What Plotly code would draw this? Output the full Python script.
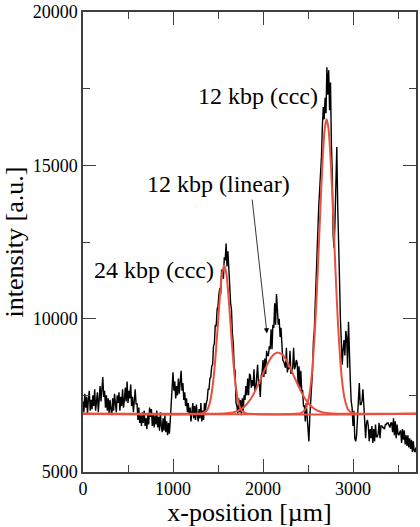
import plotly.graph_objects as go

# ---------------- data ----------------
x_start = 0
x_step = 10
intensity = [
    7300, 6950, 7550, 7100, 7450, 6900, 7400, 7650, 7000, 7350, 7050, 7500, 7150, 7700, 7000, 7400, 7600, 6950, 7350, 7800,
    7300, 7900, 8100, 7450, 7650, 7100, 7500, 7000, 7400, 6900, 7350, 7050, 6850, 7400, 7000, 7550, 7100, 6950, 7500, 7250,
    7600, 7000, 7450, 7150, 7700, 7100, 7350, 7750, 7300, 7950, 7250, 7650, 7400, 7850, 7150, 7450, 6950, 7400, 7700, 7200,
    7250, 6700, 7100, 6600, 6850, 6500, 6950, 6600, 7000, 6500, 6750, 6400, 6900, 6550, 7100, 6800, 7050, 6500, 6900, 6450,
    6850, 6550, 7000, 6450, 6800, 6350, 6950, 6500, 6300, 6750, 6350, 6850, 6300, 6650, 6200, 6600, 6250, 6700, 7300, 7850,
    8250, 7650, 7950, 7400, 7800, 7500, 8050, 7550, 8100, 8300, 7650, 7900, 7350, 7600, 7150, 7400, 6950, 7250, 6850, 7100,
    6650, 7050, 7250, 6750, 7150, 6700, 7200, 6850, 6650, 7050, 6750, 7250, 6650, 7000, 6700, 7250, 7000, 7250, 7350, 7700,
    7700, 8050, 8100, 8450, 8500, 9100, 9200, 9800, 9750, 10300, 10400, 10800, 11000, 10800, 11600, 11500, 11300, 12000, 11900, 12450,
    11700, 12200, 11300, 11100, 10500, 10300, 9500, 9200, 8400, 8300, 7250, 7150, 6900, 7400, 6950, 7350, 6850, 7400, 7000, 7500,
    7350, 7800, 7500, 8050, 7500, 8200, 8150, 7750, 8000, 7800, 8350, 7650, 7700, 8050, 8500, 7900, 7850, 7450, 8150, 8250,
    8650, 8100, 8700, 8200, 8950, 8800, 8800, 9100, 9000, 9650, 9000, 9800, 9700, 10500, 9800, 10800, 10000, 9800, 10000, 9400,
    9700, 8850, 8650, 8600, 8450, 8400, 9050, 8250, 8400, 8350, 8950, 8200, 8300, 8400, 9050, 8350, 8450, 8650, 8550, 7850,
    8450, 7750, 8300, 7650, 7650, 7150, 7150, 6650, 7250, 6750, 6400, 6000, 6800, 7200, 7750, 8300, 9250, 9600, 10450, 11100,
    12200, 12900, 13700, 14200, 15000, 15300, 16300, 16900, 16500, 17200, 16700, 18200, 17300, 18100, 16800, 17700, 15700, 14700, 12700, 12300,
    13200, 15000, 15600, 13700, 11900, 11300, 10000, 9100, 8500, 9000, 9300, 8800, 9600, 9400, 8400, 9900, 8300, 8000, 7300, 7100,
    6500, 7000, 6100, 6000, 6200, 6900, 7300, 7900, 7200, 7200, 7300, 7700, 7200, 6800, 6100, 6600, 6700, 6500, 6000, 6400,
    6100, 6500, 5950, 6400, 6000, 6550, 6150, 6150, 6250, 6600, 6100, 6500, 6500, 6450, 6450, 6400, 6550, 6550, 6600, 6600,
    6500, 6450, 6600, 6600, 6300, 6750, 6200, 6650, 6100, 6550, 6250, 6200, 6300, 6350, 5950, 6400, 6050, 6350, 5900, 6200,
    5850, 6200, 5800, 6100, 5750, 6050, 5650, 6000, 5700, 5650, 5800,
]
x_pos = [x_start + i * x_step for i in range(len(intensity))]

# Gaussian fit curves
fit1_x = [0, 1319, 1369, 1394, 1419, 1444, 1469, 1494, 1519, 1544, 1569,
          1594, 1619, 1644, 1669, 1694, 1719, 1744, 1769, 1819, 3700]
fit1_y = [6900, 6910, 6980, 7110, 7390, 7880, 8640, 9625, 10650, 11440, 11740,
          11440, 10650, 9625, 8640, 7880, 7390, 7110, 6980, 6910, 6900]

fit2_x = [0, 1466, 1566, 1666, 1716, 1766, 1816, 1866, 1916, 1966, 2016, 2066, 2116, 2166,
          2216, 2266, 2316, 2366, 2416, 2466, 2516, 2566, 2616, 2666, 2766, 2866, 3700]
fit2_y = [6900, 6901, 6908, 6942, 6988, 7069, 7202, 7398, 7662, 7978, 8314, 8614, 8824, 8900,
          8824, 8614, 8314, 7978, 7662, 7398, 7202, 7069, 6988, 6942, 6908, 6901, 6900]

fit3_x = [0, 2367, 2427, 2467, 2507, 2527, 2547, 2567, 2587, 2607, 2627, 2647, 2667, 2687, 2707,
          2727, 2747, 2767, 2787, 2807, 2827, 2847, 2867, 2887, 2907, 2947, 2987, 3047, 3700]
fit3_y = [6900, 6900, 6930, 7030, 7390, 7760, 8330, 9140, 10190, 11460, 12860, 14240, 15420, 16220, 16500,
          16220, 15420, 14240, 12860, 11460, 10190, 9140, 8330, 7760, 7390, 7030, 6930, 6900, 6900]

labels = ["24 kbp (ccc)", "12 kbp (linear)", "12 kbp (ccc)"]
label_x = [784, 1502, 1944]
label_y = [11580, 14390, 17260]
arrow_tail = (1878, 13930)
arrow_head = (2044, 9520)

x_ticks = [0, 1000, 2000, 3000]
x_tick_text = ["0", "1000", "2000", "3000"]
y_ticks = [5000, 10000, 15000, 20000]
y_tick_text = ["5000", "10000", "15000", "20000"]

# ---------------- figure ----------------
FONT = "Liberation Serif"
RED = "#e8503f"

fig = go.Figure()
fig.add_trace(go.Scatter(x=x_pos, y=intensity, mode="lines",
                         line=dict(color="black", width=1.4), showlegend=False))
for fx, fy in [(fit1_x, fit1_y), (fit2_x, fit2_y), (fit3_x, fit3_y)]:
    fig.add_trace(go.Scatter(x=fx, y=fy, mode="lines",
                             line=dict(color=RED, width=2, shape="spline", smoothing=0.6),
                             showlegend=False))

for t, lx, ly in zip(labels, label_x, label_y):
    fig.add_annotation(x=lx, y=ly, text=t, showarrow=False, xref="x", yref="y",
                       font=dict(family=FONT, size=24, color="black"))

fig.add_annotation(x=arrow_head[0], y=arrow_head[1], ax=arrow_tail[0], ay=arrow_tail[1],
                   xref="x", yref="y", axref="x", ayref="y", text="", showarrow=True,
                   arrowhead=2, arrowsize=1.3, arrowwidth=0.8, arrowcolor="black")

axis_common = dict(showline=True, linecolor="#404040", linewidth=1.5, mirror="ticks",
                   ticks="inside", ticklen=13, tickwidth=1.3, tickcolor="#404040",
                   showgrid=False, zeroline=False, ticklabeloverflow="allow",
                   tickfont=dict(family=FONT, size=18, color="black"))

fig.update_xaxes(range=[0, 3700], tickvals=x_ticks, ticktext=x_tick_text,
                 minor=dict(dtick=500, tick0=0, ticks="inside", ticklen=7, tickwidth=1.3,
                            tickcolor="#404040", showgrid=False),
                 title=dict(text="x-position [µm]", font=dict(family=FONT, size=26, color="black"),
                            standoff=0),
                 **axis_common)
fig.update_yaxes(range=[5000, 20000], tickvals=y_ticks, ticktext=y_tick_text,
                 minor=dict(dtick=2500, tick0=5000, ticks="inside", ticklen=7, tickwidth=1.3,
                            tickcolor="#404040", showgrid=False),
                 title=dict(text="intensity [a.u.]", font=dict(family=FONT, size=26, color="black"),
                            standoff=4),
                 **axis_common)

fig.update_layout(width=420, height=527, margin=dict(l=83, r=2, t=7, b=55),
                  plot_bgcolor="white", paper_bgcolor="white",
                  font=dict(family=FONT, color="black"))

fig.write_html("out.html")
